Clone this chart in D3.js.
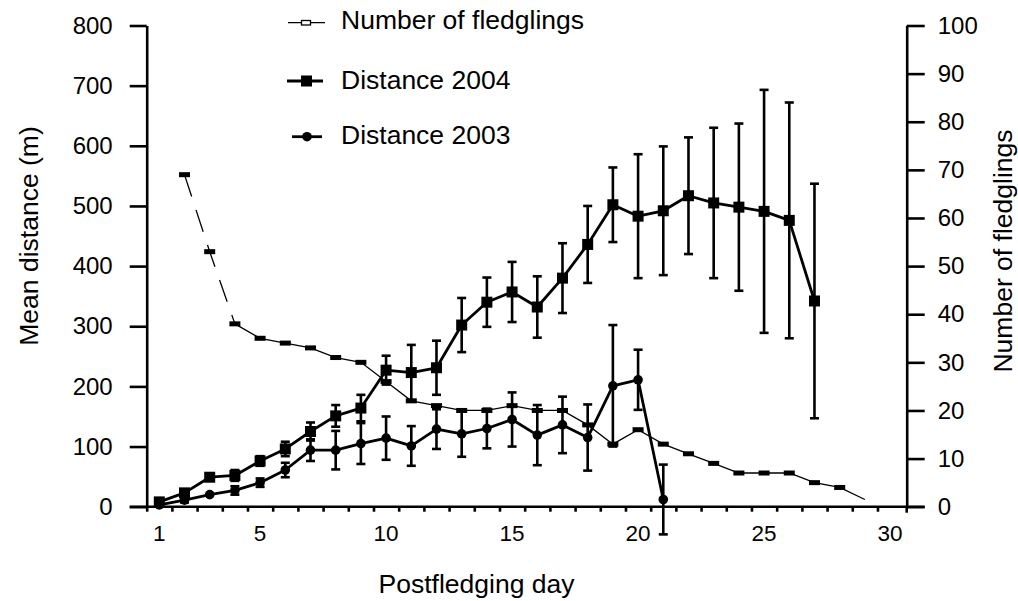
<!DOCTYPE html>
<html>
<head>
<meta charset="utf-8">
<script src="https://cdn.jsdelivr.net/npm/d3@7"></script>
<style>
body { margin: 0; background: #fff; }
text { font-family: "Liberation Sans", Arial, Helvetica, sans-serif; fill: #000; }
</style>
</head>
<body>
<div id="chart"></div>
<script>
// Distance 2004 (mean +- error), days 1-27
var days2004 = [1,2,3,4,5,6,7,8,9,10,11,12,13,14,15,16,17,18,19,20,21,22,23,24,25,26,27];
var dist2004 = [8,23,49,52,76,96,125,151,164,227,223,231,302,340,357,332,380,436,502,483,492,517,505,498,491,476,342];
var err2004  = [0,5,0,9,8,12,15,18,22,24,46,45,45,41,50,51,58,64,62,103,107,97,125,139,202,196,195];

// Distance 2003, days 1-21
var days2003 = [1,2,3,4,5,6,7,8,9,10,11,12,13,14,15,16,17,18,19,20,21];
var dist2003 = [3,11,20,27,40,61,94,94,105,114,101,129,121,130,145,119,136,115,201,211,12];
var err2003  = [0,4,0,7,7,12,18,32,34,36,33,33,38,33,45,50,47,55,101,50,58];

// Number of fledglings (right axis), days 2-29; last point is the open line end
var fledgeDays = [2,3,4,5,6,7,8,9,10,11,12,13,14,15,16,17,18,19,20,21,22,23,24,25,26,27,28,29];
var fledglings = [69,53,38,35,34,33,31,30,26,22,21,20,20,21,20,20,17,13,16,13,11,9,7,7,7,5,4,1.5];
var fledgeDashedUntil = 4; // segments up to this day are dashed

var dayLabels = [1,5,10,15,20,25,30];
var dayTicks = [0.5,1.5,2.5,3.5,4.5,5.5,6.5,7.5,8.5,9.5,10.5,11.5,12.5,13.5,14.5,15.5,16.5,17.5,18.5,19.5,20.5,21.5,22.5,23.5,24.5,25.5,26.5,27.5,28.5,29.5];
var distTicks = [0,100,200,300,400,500,600,700,800];
var fledgeTicks = [0,10,20,30,40,50,60,70,80,90,100];

function draw_chart(){
	var width = 1018, height = 601;
	var mLeft = 146.7, mRight = 906.7, mTop = 25.5, mBottom = 506.7;
	var axisW = 2.6, lineW = 2.8;

	var svg = d3.select("#chart").append("svg")
		.attr("width", width)
		.attr("height", height)
		.style("background", "#fff");

	var x = d3.scaleLinear().domain([0.5, 30.66]).range([mLeft, mRight]);
	var yL = d3.scaleLinear().domain([0, 800]).range([mBottom, mTop]);
	var yR = d3.scaleLinear().domain([0, 100]).range([mBottom, mTop]);

	// ---- axes
	function styleAxis(g, fs){
		g.attr("font-size", fs).attr("font-family", null);
		g.selectAll("path, line").attr("stroke", "#000").attr("stroke-width", axisW);
		g.selectAll("text").style("font-size", fs + "px").attr("fill", "#000");
	}

	var gx = svg.append("g")
		.attr("transform", "translate(0," + mBottom + ")")
		.call(d3.axisBottom(x).tickValues(dayTicks).tickSize(5).tickSizeOuter(0).tickFormat(""));
	gx.select(".domain").remove();
	gx.append("line").attr("x1", mLeft - 17).attr("x2", mRight + 18).attr("y1", 0).attr("y2", 0);
	gx.append("line").attr("x1", mRight).attr("x2", mRight).attr("y1", 0).attr("y2", 6);
	styleAxis(gx, 22);

	svg.append("g").selectAll("text")
		.data(dayLabels)
		.enter().append("text")
		.attr("x", function(d){ return x(d); })
		.attr("y", 541)
		.attr("text-anchor", "middle")
		.style("font-size", "22.5px")
		.text(function(d){ return d; });

	var gl = svg.append("g")
		.attr("transform", "translate(" + mLeft + ",0)")
		.call(d3.axisLeft(yL).tickValues(distTicks).tickSize(17).tickPadding(17).tickSizeOuter(0));
	styleAxis(gl, 24);

	var gr = svg.append("g")
		.attr("transform", "translate(" + mRight + ",0)")
		.call(d3.axisRight(yR).tickValues(fledgeTicks).tickSize(18).tickPadding(13).tickSizeOuter(0));
	styleAxis(gr, 24);

	// ---- axis titles
	svg.append("text")
		.attr("transform", "translate(38,236) rotate(-90)")
		.attr("text-anchor", "middle")
		.style("font-size", "26.5px")
		.text("Mean distance (m)");

	svg.append("text")
		.attr("transform", "translate(1012,251) rotate(-90)")
		.attr("text-anchor", "middle")
		.style("font-size", "26.5px")
		.text("Number of fledglings");

	svg.append("text")
		.attr("x", 476.5)
		.attr("y", 593)
		.attr("text-anchor", "middle")
		.style("font-size", "26.5px")
		.text("Postfledging day");

	// ---- number of fledglings (thin line, small bar markers)
	var fl = fledgeDays.map(function(d, i){ return {day: d, v: fledglings[i]}; });
	var lineR = d3.line().x(function(d){ return x(d.day); }).y(function(d){ return yR(d.v); });

	svg.append("path")
		.datum(fl.filter(function(d){ return d.day <= fledgeDashedUntil; }))
		.attr("d", lineR)
		.attr("fill", "none")
		.attr("stroke", "#000")
		.attr("stroke-width", 1.3)
		.attr("stroke-dasharray", "23,14");

	svg.append("path")
		.datum(fl.filter(function(d){ return d.day >= fledgeDashedUntil; }))
		.attr("d", lineR)
		.attr("fill", "none")
		.attr("stroke", "#000")
		.attr("stroke-width", 1.3);

	svg.append("g").selectAll("rect")
		.data(fl.slice(0, -1))
		.enter().append("rect")
		.attr("x", function(d){ return x(d.day) - 5.5; })
		.attr("y", function(d){ return yR(d.v) - 2.5; })
		.attr("width", 11)
		.attr("height", 5)
		.attr("fill", "#000");

	// ---- distance series with error bars
	function drawSeries(days, vals, errs, shape){
		var pts = days.map(function(d, i){ return {day: d, v: vals[i], e: errs[i]}; });
		var g = svg.append("g");

		var eb = g.selectAll(".eb").data(pts.filter(function(d){ return d.e > 0; }))
			.enter().append("g").attr("class", "eb");
		eb.append("line")
			.attr("x1", function(d){ return x(d.day); })
			.attr("x2", function(d){ return x(d.day); })
			.attr("y1", function(d){ return yL(d.v - d.e); })
			.attr("y2", function(d){ return yL(d.v + d.e); });
		eb.append("line")
			.attr("x1", function(d){ return x(d.day) - 4.5; })
			.attr("x2", function(d){ return x(d.day) + 4.5; })
			.attr("y1", function(d){ return yL(d.v + d.e); })
			.attr("y2", function(d){ return yL(d.v + d.e); });
		eb.append("line")
			.attr("x1", function(d){ return x(d.day) - 4.5; })
			.attr("x2", function(d){ return x(d.day) + 4.5; })
			.attr("y1", function(d){ return yL(d.v - d.e); })
			.attr("y2", function(d){ return yL(d.v - d.e); });
		eb.selectAll("line").attr("stroke", "#000").attr("stroke-width", 2.6);

		g.append("path")
			.datum(pts)
			.attr("d", d3.line().x(function(d){ return x(d.day); }).y(function(d){ return yL(d.v); }))
			.attr("fill", "none")
			.attr("stroke", "#000")
			.attr("stroke-width", lineW)
			.attr("stroke-linejoin", "round");

		if(shape == "square"){
			g.selectAll(".m").data(pts).enter().append("rect")
				.attr("x", function(d){ return x(d.day) - 5.5; })
				.attr("y", function(d){ return yL(d.v) - 5.5; })
				.attr("width", 11).attr("height", 11)
				.attr("fill", "#000");
		} else {
			g.selectAll(".m").data(pts).enter().append("circle")
				.attr("cx", function(d){ return x(d.day); })
				.attr("cy", function(d){ return yL(d.v); })
				.attr("r", 4.8)
				.attr("fill", "#000");
		}
	}

	drawSeries(days2003, dist2003, err2003, "circle");
	drawSeries(days2004, dist2004, err2004, "square");

	// ---- legend
	var leg = svg.append("g");
	leg.append("line").attr("x1", 288).attr("x2", 325).attr("y1", 22.7).attr("y2", 22.7)
		.attr("stroke", "#000").attr("stroke-width", 1.3);
	leg.append("rect").attr("x", 301.5).attr("y", 20.5).attr("width", 9).attr("height", 4.5)
		.attr("fill", "#fff").attr("stroke", "#000").attr("stroke-width", 1.3);
	leg.append("text").attr("x", 341).attr("y", 28.5).style("font-size", "26.5px").text("Number of fledglings");

	leg.append("line").attr("x1", 287).attr("x2", 323).attr("y1", 81).attr("y2", 81)
		.attr("stroke", "#000").attr("stroke-width", lineW);
	leg.append("rect").attr("x", 301).attr("y", 75.5).attr("width", 11).attr("height", 11).attr("fill", "#000");
	leg.append("text").attr("x", 341).attr("y", 88.5).style("font-size", "26.5px").text("Distance 2004");

	leg.append("line").attr("x1", 292).attr("x2", 322).attr("y1", 136.7).attr("y2", 136.7)
		.attr("stroke", "#000").attr("stroke-width", lineW);
	leg.append("circle").attr("cx", 307).attr("cy", 136.7).attr("r", 4.8).attr("fill", "#000");
	leg.append("text").attr("x", 341).attr("y", 144).style("font-size", "26.5px").text("Distance 2003");
}

draw_chart();
</script>
</body>
</html>
